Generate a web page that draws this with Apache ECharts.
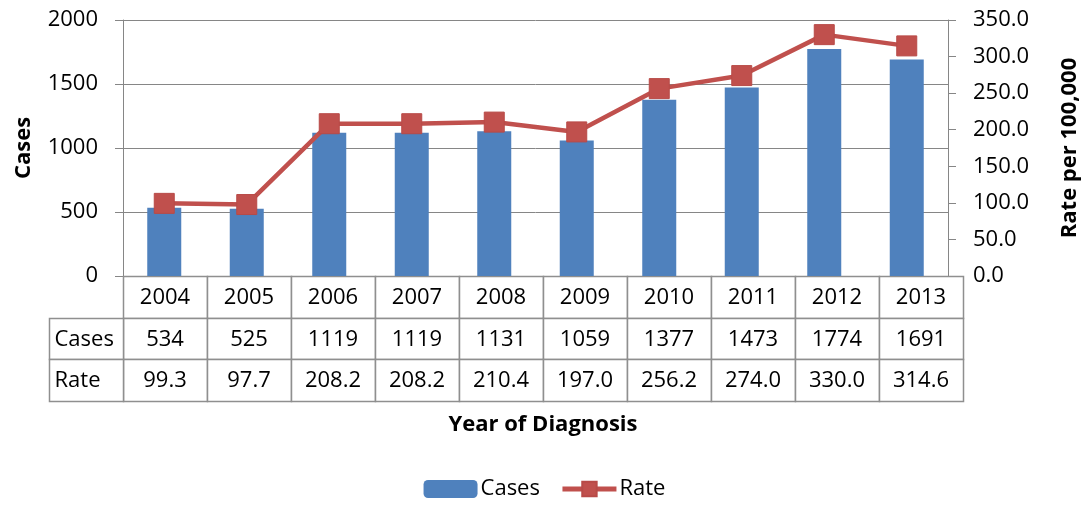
<!DOCTYPE html>
<html>
<head>
<meta charset="utf-8">
<script src="https://cdn.jsdelivr.net/npm/echarts@6/dist/echarts.min.js"></script>
<style>
html,body{margin:0;padding:0;background:#fff;}
#chart{width:1089px;height:508px;}
</style>
</head>
<body>
<div id="chart"></div>
<script>
const years = ['2004','2005','2006','2007','2008','2009','2010','2011','2012','2013'];
const cases = [534, 525, 1119, 1119, 1131, 1059, 1377, 1473, 1774, 1691];
const rates = [99.3, 97.7, 208.2, 208.2, 210.4, 197.0, 256.2, 274.0, 330.0, 314.6];
const tableRows = ['Year', 'Cases', 'Rate'];
const rowLabels = ['Cases', 'Rate'];

const FONT = '"Open Sans", "Noto Sans", sans-serif';
const FS = 22;
const GRID_COLOR = '#868686';
const TABLE_COLOR = '#8f8f8f';

function cellText(col, row) {
  if (row === 0) return years[col];
  if (row === 1) return String(cases[col]);
  return rates[col].toFixed(1);
}

const tableData = [];
for (let r = 0; r < tableRows.length; r++) {
  for (let c = 0; c < years.length; c++) tableData.push([c, r]);
}
const labelData = rowLabels.map((_, i) => [0, i]);

function cellRect(api, c, r) {
  const p = api.coord([c, r]);
  const s = api.size([1, 1]);
  const x0 = Math.round(p[0] - s[0] / 2) + 0.5;
  const y0 = Math.round(p[1] - s[1] / 2) + 0.5;
  const x1 = Math.round(p[0] + s[0] / 2) + 0.5;
  const y1 = Math.round(p[1] + s[1] / 2) + 0.5;
  return {x: x0, y: y0, width: x1 - x0, height: y1 - y0, cx: p[0], cy: p[1]};
}

const chart = echarts.init(document.getElementById('chart'), null, {renderer: 'canvas'});
chart.setOption({
  animation: false,
  backgroundColor: '#ffffff',
  textStyle: {fontFamily: FONT, color: '#000'},
  grid: [
    {left: 123, top: 20, width: 840, height: 256},
    {left: 123, top: 276, width: 840, height: 125},
    {left: 49, top: 317.7, width: 74, height: 83.3}
  ],
  legend: {
    data: [
      {name: 'Cases'},
      {name: 'Rate', lineStyle: {width: 5, color: '#C0504D'}}
    ],
    bottom: 3,
    left: 'center',
    itemWidth: 54,
    itemHeight: 18,
    itemGap: 20,
    textStyle: {fontFamily: FONT, fontSize: FS, color: '#000', padding: [0, 0, 0, -2]}
  },
  xAxis: [
    {gridIndex: 0, type: 'category', data: years,
     axisLine: {show: true, lineStyle: {color: GRID_COLOR, width: 1}},
     axisTick: {show: false}, axisLabel: {show: false}, splitLine: {show: false}},
    {gridIndex: 1, type: 'category', data: years,
     axisLine: {show: false}, axisTick: {show: false}, axisLabel: {show: false},
     name: 'Year of Diagnosis', nameLocation: 'middle', nameGap: 13,
     nameTextStyle: {fontFamily: FONT, fontSize: FS, fontWeight: 'bold', color: '#000'}},
    {gridIndex: 2, type: 'category', data: ['label'], show: false}
  ],
  yAxis: [
    {gridIndex: 0, type: 'value', min: 0, max: 2000, interval: 500, position: 'left',
     axisLine: {show: true, lineStyle: {color: GRID_COLOR, width: 1}},
     axisTick: {show: true, inside: false, length: 8, lineStyle: {color: GRID_COLOR}},
     axisLabel: {fontFamily: FONT, fontSize: FS, color: '#000', margin: 25,
                 formatter: v => String(v)},
     splitLine: {show: true, lineStyle: {color: GRID_COLOR, width: 1}},
     name: 'Cases', nameLocation: 'middle', nameGap: 88, nameRotate: 90,
     nameTextStyle: {fontFamily: FONT, fontSize: FS, fontWeight: 'bold', color: '#000'}},
    {gridIndex: 0, type: 'value', min: 0, max: 350, interval: 50, position: 'right',
     axisLine: {show: true, lineStyle: {color: GRID_COLOR, width: 1}},
     axisTick: {show: true, inside: false, length: 8, lineStyle: {color: GRID_COLOR}},
     axisLabel: {fontFamily: FONT, fontSize: FS, color: '#000', margin: 25,
                 formatter: v => v.toFixed(1)},
     splitLine: {show: false},
     name: 'Rate per 100,000', nameLocation: 'middle', nameGap: 111, nameRotate: 90,
     nameTextStyle: {fontFamily: FONT, fontSize: FS, fontWeight: 'bold', color: '#000'}},
    {gridIndex: 1, type: 'category', data: tableRows, inverse: true, show: false},
    {gridIndex: 2, type: 'category', data: rowLabels, inverse: true, show: false}
  ],
  series: [
    {name: 'Cases', type: 'bar', xAxisIndex: 0, yAxisIndex: 0, data: cases,
     barWidth: 34, itemStyle: {color: '#4F81BD'}},
    {name: 'Rate', type: 'line', xAxisIndex: 0, yAxisIndex: 1, data: rates,
     symbol: 'rect', symbolSize: 20,
     lineStyle: {color: '#C0504D', width: 4.5},
     itemStyle: {color: '#C0504D', borderColor: '#B84A47', borderWidth: 1}},
    {name: 'table', type: 'custom', xAxisIndex: 1, yAxisIndex: 2, data: tableData,
     renderItem: function (params, api) {
       const c = api.value(0), r = api.value(1);
       const b = cellRect(api, c, r);
       return {type: 'group', children: [
         {type: 'rect', shape: {x: b.x, y: b.y, width: b.width, height: b.height},
          style: {fill: '#fff', stroke: TABLE_COLOR, lineWidth: 1.5}},
         {type: 'text', style: {text: cellText(c, r), x: b.cx, y: b.cy + 1,
          align: 'center', verticalAlign: 'middle',
          font: FS + 'px ' + FONT, fill: '#000'}}
       ]};
     }},
    {name: 'rowlabels', type: 'custom', xAxisIndex: 2, yAxisIndex: 3, data: labelData,
     renderItem: function (params, api) {
       const c = api.value(0), r = api.value(1);
       const b = cellRect(api, c, r);
       return {type: 'group', children: [
         {type: 'rect', shape: {x: b.x, y: b.y, width: b.width, height: b.height},
          style: {fill: '#fff', stroke: TABLE_COLOR, lineWidth: 1.5}},
         {type: 'text', style: {text: rowLabels[r], x: b.x + 5, y: b.cy + 1,
          align: 'left', verticalAlign: 'middle',
          font: FS + 'px ' + FONT, fill: '#000'}}
       ]};
     }}
  ]
});
</script>
</body>
</html>
